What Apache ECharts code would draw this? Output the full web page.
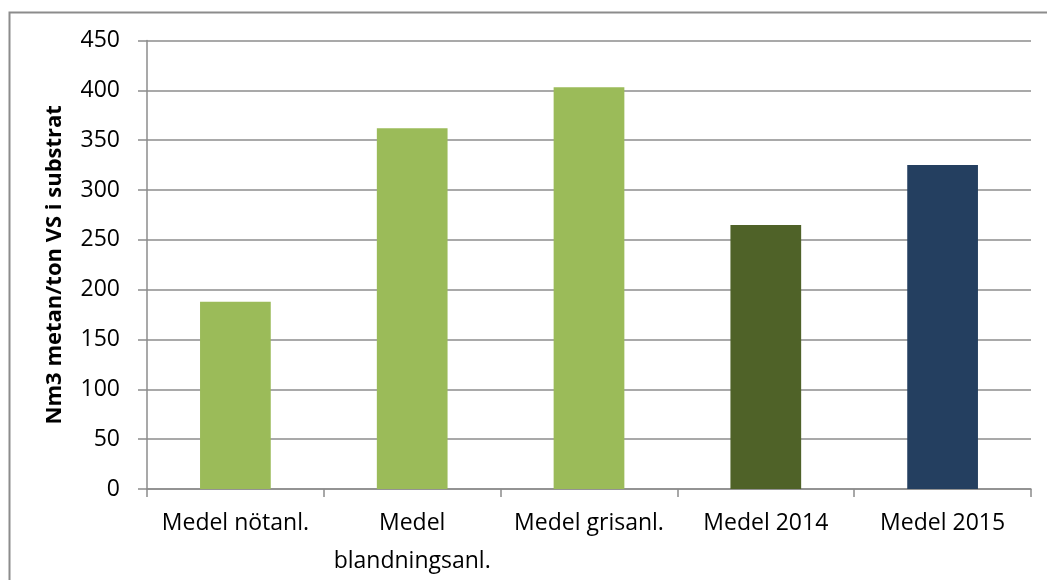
<!DOCTYPE html>
<html>
<head>
<meta charset="utf-8">
<script src="https://cdn.jsdelivr.net/npm/echarts@6/dist/echarts.min.js"></script>
<style>html,body{margin:0;padding:0;background:#fff}#c{width:1047px;height:580px}</style>
</head>
<body>
<div id="c"></div>
<script>
const categories = ['Medel nötanl.', 'Medel\nblandningsanl.', 'Medel grisanl.', 'Medel 2014', 'Medel 2015'];
const values = [188, 362, 403, 265, 325];
const barColors = ['#9BBB59', '#9BBB59', '#9BBB59', '#4F6228', '#243F60'];
const yTitle = 'Nm3 metan/ton VS i substrat';

const chart = echarts.init(document.getElementById('c'), null, {renderer: 'canvas'});
const font = '"Open Sans", "Noto Sans", sans-serif';
chart.setOption({
  animation: false,
  backgroundColor: '#fff',
  graphic: [{
    type: 'rect', left: 7, top: 10, z: -1,
    shape: {x: 0, y: 0, width: 1100, height: 600},
    style: {fill: 'none', stroke: '#8c8c8c', lineWidth: 2}
  }],
  grid: {left: 147, right: 16, top: 40.5, bottom: 90.5, containLabel: false},
  xAxis: {
    type: 'category',
    data: categories,
    axisLine: {lineStyle: {color: '#8c8c8c', width: 1.5}},
    axisTick: {show: true, length: 8, lineStyle: {color: '#8c8c8c', width: 1.5}},
    axisLabel: {color: '#000', fontFamily: font, fontSize: 23, margin: 15, lineHeight: 38, interval: 0}
  },
  yAxis: {
    type: 'value', min: 0, max: 450, interval: 50,
    name: yTitle, nameLocation: 'middle', nameGap: 81, nameRotate: 90,
    nameTextStyle: {color: '#000', fontFamily: font, fontSize: 22, fontWeight: 'bold'},
    axisLine: {show: true, lineStyle: {color: '#8c8c8c', width: 1.5}},
    axisTick: {show: true, length: 9, lineStyle: {color: '#8c8c8c', width: 1.5}},
    axisLabel: {color: '#000', fontFamily: font, fontSize: 23, margin: 27},
    splitLine: {lineStyle: {color: '#8c8c8c', width: 1.5}}
  },
  series: [{
    type: 'bar',
    data: values.map((v, i) => ({value: v, itemStyle: {color: barColors[i]}})),
    barWidth: '40%'
  }]
});
</script>
</body>
</html>
